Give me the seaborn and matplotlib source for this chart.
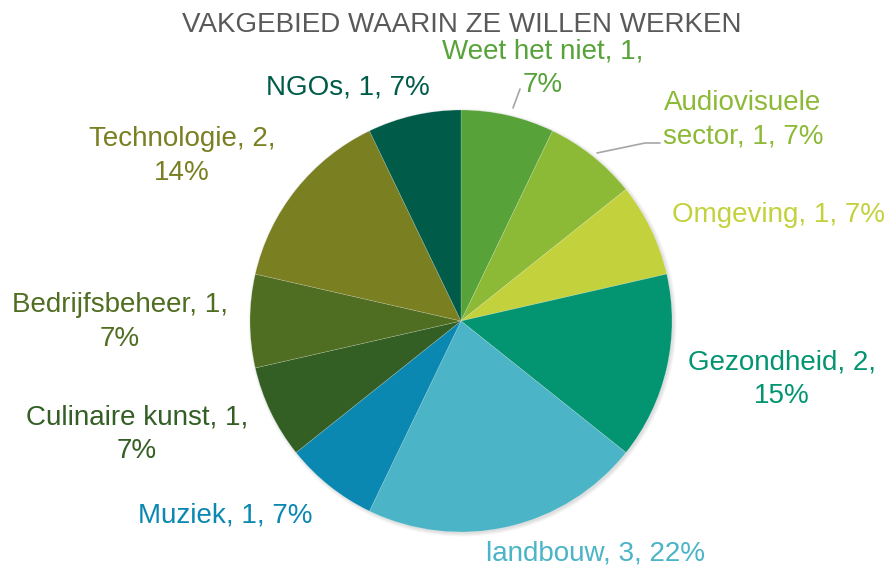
import textwrap
import matplotlib
matplotlib.use("Agg")
import matplotlib.pyplot as plt
from matplotlib.patches import Circle
import seaborn as sns

# Field of work respondents want to work in (count and rounded share)
categories = ["Weet het niet", "Audiovisuele sector", "Omgeving", "Gezondheid",
              "landbouw", "Muziek", "Culinaire kunst", "Bedrijfsbeheer",
              "Technologie", "NGOs"]
counts = [1, 1, 1, 2, 3, 1, 1, 1, 2, 1]
percents = [7, 7, 7, 15, 22, 7, 7, 7, 14, 7]
title = "VAKGEBIED WAARIN ZE WILLEN WERKEN"

colors = ["#57A33A", "#8DBA36", "#C3D13C", "#039571", "#4BB4C6",
          "#0A88B2", "#335F25", "#506E21", "#7A7F22", "#005B48"]

# label layout: block centre (pixels from top-left) and wrap width
label_pos = [(543, 68), (743, 120), (778, 215), (782, 379), (596, 554),
             (225, 515), (137, 434), (120, 322), (182, 156), (348, 88)]
wrap_width = [17, 13, None, 14, None, None, 19, 18, 15, None]

W, H = 888, 566
sns.set_theme(style="white")
plt.rcParams["font.family"] = ["Liberation Sans", "DejaVu Sans"]

fig = plt.figure(figsize=(W / 100, H / 100), dpi=100)
ax = fig.add_axes([0, 0, 1, 1])


def py(y):
    return H - y


cx, cy, r = 461, py(321), 211

# soft drop shadow behind the pie
for i, a in enumerate([0.06, 0.06, 0.07, 0.08]):
    ax.add_patch(Circle((cx + 1.5, cy - 1.5), r + 3 - i, color="#7f7f7f",
                        alpha=a, lw=0, zorder=1))

ax.pie(counts, colors=colors, startangle=90, counterclock=False,
       center=(cx, cy), radius=r, frame=True,
       wedgeprops=dict(linewidth=0.4, edgecolor=(1, 1, 1, 0.3), zorder=2))
ax.set_xlim(0, W)
ax.set_ylim(0, H)
ax.set_aspect("equal")
ax.axis("off")

for cat, n, p, col, (lx, ly), ww in zip(categories, counts, percents, colors,
                                        label_pos, wrap_width):
    txt = f"{cat}, {n}, {p}%"
    if ww:
        txt = textwrap.fill(txt, ww)
    ax.text(lx, py(ly), txt, color=col, fontsize=20, ha="center",
            va="center", linespacing=1.38, zorder=5)

# leader lines
ax.plot([513, 520], [py(108), py(89)], color="#A6A6A6", lw=1.2, zorder=4)
ax.plot([597, 645, 660], [py(153), py(143), py(143)], color="#A6A6A6",
        lw=1.2, zorder=4)

ax.text(W / 2 + 18, py(25), title, color="#595959", fontsize=20,
        ha="center", va="center", zorder=5)

fig.savefig("out.png", dpi=100, facecolor="white")
